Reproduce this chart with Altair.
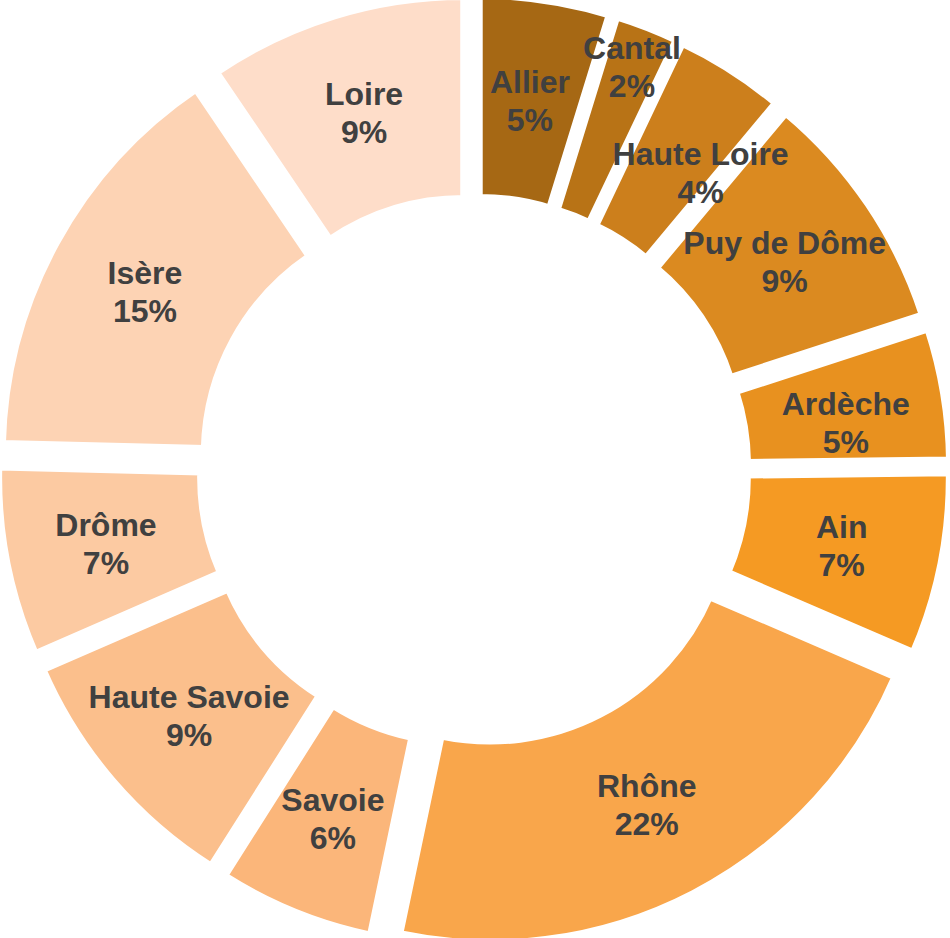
import altair as alt
import pandas as pd

departements = ["Allier", "Cantal", "Haute Loire", "Puy de Dôme", "Ardèche", "Ain",
                "Rhône", "Savoie", "Haute Savoie", "Drôme", "Isère", "Loire"]
parts = [4.75, 2.3, 4.0, 8.9, 4.8, 6.65, 21.75, 5.7, 9.45, 6.9, 15.1, 9.45]
couleurs = ["#A66814", "#B87316", "#CC7F1C", "#DB8A20", "#E8911F", "#F59A23",
            "#F9A64B", "#FBB67A", "#FBBF8C", "#FCCAA2", "#FDD3B4", "#FEDDC9"]

CX, CY = 474, 471      # pie centre in pixels
EXPLODE = 35           # outward shift of each slice along its bisector
LABEL_R = 340          # label distance from its slice's own centre
LABEL_R_CANTAL = 400   # the thin Cantal slice has its label pushed outward
# small angular nudges (degrees) of a few labels, as placed in the original
NUDGE = "datum.nom == 'Haute Loire' ? 5 : (datum.nom == 'Ardèche' ? 2 : 0)"

df = pd.DataFrame({
    "idx": list(range(len(departements))),
    "nom": departements,
    "part": parts,
})

base = alt.Chart(df).transform_joinaggregate(
    total="sum(part)"
).transform_window(
    cum="sum(part)", sort=[alt.SortField("idx")],
    frame=[None, 0]
).transform_calculate(
    ang="2 * PI * (datum.cum - datum.part / 2) / datum.total",
    pct="round(100 * datum.part / datum.total)",
    lr=f"datum.nom == 'Cantal' ? {LABEL_R_CANTAL} : {LABEL_R}",
    nudge=f"({NUDGE}) * PI / 180",
).transform_calculate(
    cx=f"{CX} + {EXPLODE} * sin(datum.ang)",
    cy=f"{CY} - {EXPLODE} * cos(datum.ang)",
).transform_calculate(
    lx="datum.cx + datum.lr * sin(datum.ang + datum.nudge)",
    ly="datum.cy - datum.lr * cos(datum.ang + datum.nudge)",
    lab="[datum.nom, datum.pct + '%']",
)

arcs = base.mark_arc(innerRadius=239, outerRadius=441, stroke="white",
                     strokeWidth=7).encode(
    theta=alt.Theta("part:Q", stack=True),
    order=alt.Order("idx:Q"),
    x=alt.X("cx:Q", scale=None),
    y=alt.Y("cy:Q", scale=None),
    color=alt.Color("nom:N", scale=alt.Scale(domain=departements, range=couleurs),
                    legend=None),
)

labels = base.mark_text(
    font="Liberation Sans", fontWeight="bold", fontSize=32,
    lineHeight=38, color="#404040", align="center", baseline="middle", dy=-17
).encode(
    x=alt.X("lx:Q", scale=None),
    y=alt.Y("ly:Q", scale=None),
    text="lab:N",
)

chart = alt.layer(arcs, labels).properties(
    width=950, height=938,
    autosize=alt.AutoSizeParams(type="none"),
    padding=0, background="white",
).configure_view(stroke=None)

chart.save("out.html", embed_options={"renderer": "svg", "actions": False})
